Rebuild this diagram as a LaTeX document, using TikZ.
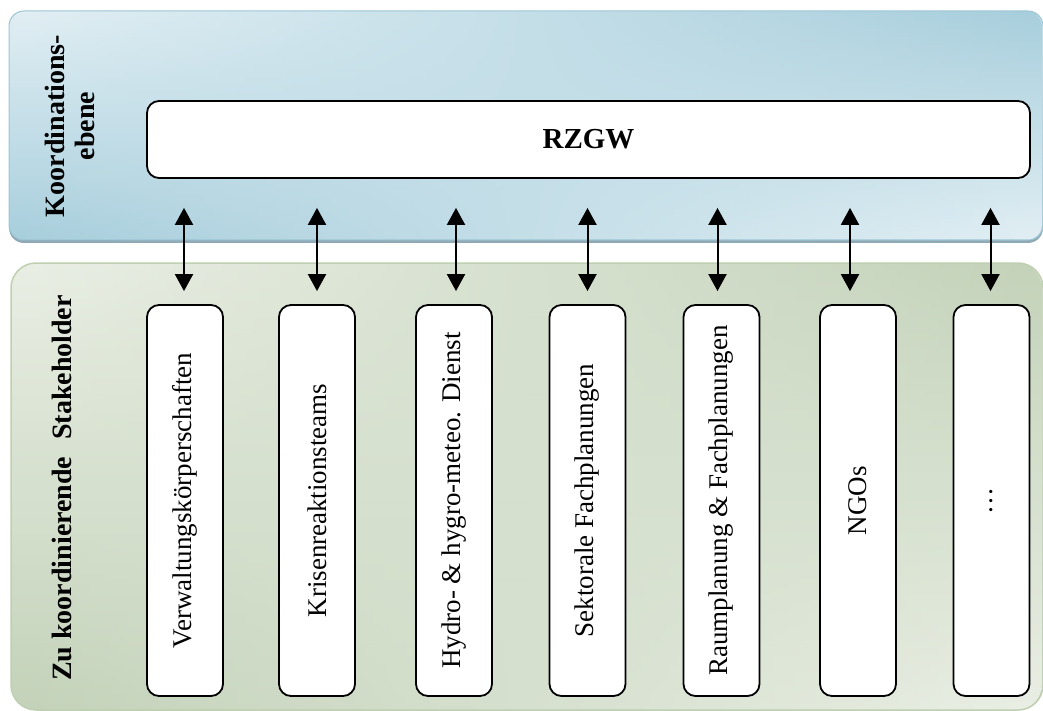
\documentclass[tikz,border=0pt]{standalone}
\usepackage{fontspec}
\setmainfont{Liberation Serif}
\usetikzlibrary{arrows.meta,fadings,calc}

\definecolor{bluelight}{HTML}{E2EFF4}
\definecolor{bluedark}{HTML}{A7CEDC}
\definecolor{blueedge}{HTML}{9CC5D4}
\definecolor{blueshadow}{HTML}{8FAAB6}
\definecolor{greenlight}{HTML}{EAEFE5}
\definecolor{greendark}{HTML}{C3D2B9}
\definecolor{greenedge}{HTML}{BFCFB1}

\begin{document}
\begin{tikzpicture}[x=1pt,y=-1pt,
  panelfont/.style={font=\fontsize{28}{30}\selectfont\bfseries},
  box/.style={draw=black,line width=1.8pt,fill=white,rounded corners=12pt},
  stake/.style={box,minimum width=76pt,minimum height=391pt,inner sep=0pt,
    font=\fontsize{27}{30}\selectfont},
  biarrow/.style={line width=2pt,
    {Triangle[length=17pt 0 0,width=18pt 0 0]}-{Triangle[length=17pt 0 0,width=18pt 0 0]}}
]
\useasboundingbox (0,0) rectangle (1043,711);

% coordination level panel: shadow, two crossing shadings, outline
\fill[blueshadow,rounded corners=15pt] (9,14) rectangle (1043,243);
\path[rounded corners=15pt,top color=bluelight,bottom color=bluedark]
  (9,11) rectangle (1043,240);
\path[rounded corners=15pt,top color=bluedark,bottom color=bluelight,path fading=west]
  (9,11) rectangle (1043,240);
\draw[blueedge,line width=1pt,rounded corners=15pt] (9,11) rectangle (1043,240);

% stakeholder panel
\path[rounded corners=25pt,top color=greenlight,bottom color=greendark]
  (11,263) rectangle (1043,710);
\path[rounded corners=25pt,top color=greendark,bottom color=greenlight,path fading=west]
  (11,263) rectangle (1043,710);
\draw[greenedge,line width=1.5pt,rounded corners=25pt] (11,263) rectangle (1043,710);

% panel titles
\node[panelfont,rotate=90,align=center] (koord) at (70,126) {Koordinations-\\ebene};
\node[panelfont,rotate=90] (zu) at (62,488) {Zu koordinierende\hspace{0.6em}Stakeholder};

% coordinating body
\node[box,minimum width=883pt,minimum height=77pt,inner sep=0pt,
  font=\fontsize{29}{30}\selectfont\bfseries] (rzgw) at (588.5,139.5) {RZGW};

% stakeholders
\node[stake] (s1) at (185,500.5)   {\rotatebox{90}{Verwaltungskörperschaften}};
\node[stake] (s2) at (317,500.5)   {\rotatebox{90}{Krisenreaktionsteams}};
\node[stake] (s3) at (454,500.5)   {\rotatebox{90}{Hydro- \& hygro-meteo. Dienst}};
\node[stake] (s4) at (587.5,500.5) {\rotatebox{90}{Sektorale Fachplanungen}};
\node[stake] (s5) at (721.5,500.5) {\rotatebox{90}{Raumplanung \& Fachplanungen}};
\node[stake] (s6) at (858,500.5)   {\rotatebox{90}{NGOs}};
\node[stake] (s7) at (991.5,500.5) {\rotatebox{90}{…}};

% two-way links
\foreach \s/\dx in {s1/-1,s2/0,s3/2,s4/0,s5/-4,s6/-8,s7/-1}{
  \draw[biarrow] ($(rzgw.south -| \s.north)+(\dx,29)$) -- ($(\s.north)+(\dx,-13)$);
}
\end{tikzpicture}
\end{document}
